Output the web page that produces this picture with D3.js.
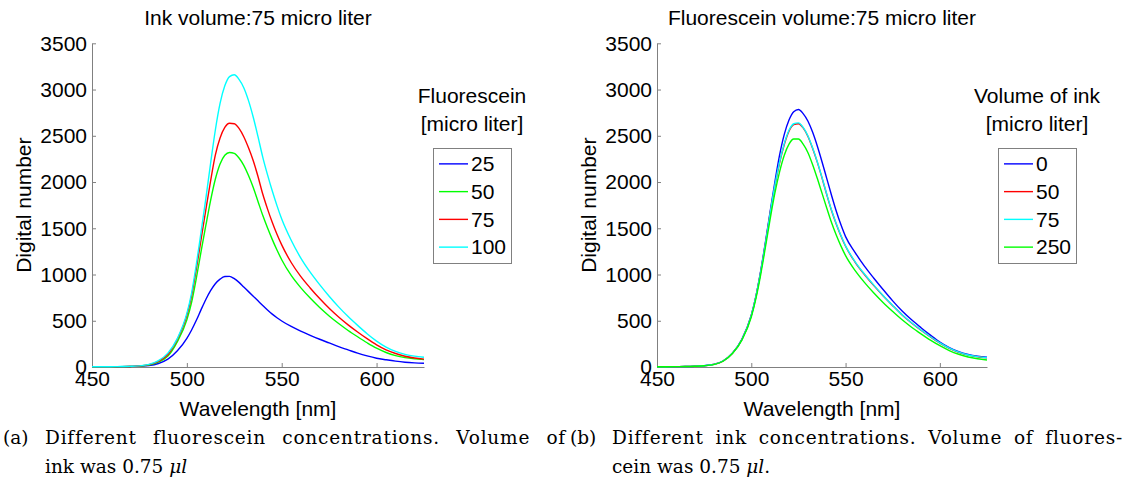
<!DOCTYPE html>
<html>
<head>
<meta charset="utf-8">
<script src="https://cdn.jsdelivr.net/npm/d3@7"></script>
<style>
  body { margin: 0; background: #fff; }
  svg text { font-family: "Liberation Sans", Arial, sans-serif; fill: #000; }
  svg text.caption { font-family: "DejaVu Serif", serif; }
</style>
</head>
<body>
<div id="chart"></div>
<script>
// wavelengths the spectra were read at (nm)
const wavelength = [450, 455, 460, 465, 470, 475, 480, 485, 490, 495, 500,
  502.5, 505, 507.5, 510, 512.5, 515, 517.5, 520, 522.5, 525, 527.5, 530, 532.5, 535,
  537.5, 540, 542.5, 545, 547.5, 550,
  555, 560, 565, 570, 575, 580, 585, 590, 595, 600, 605, 610, 615, 620, 625]

const xTicks = [450, 500, 550, 600]
const yTicks = [0, 500, 1000, 1500, 2000, 2500, 3000, 3500]

// (a) ink fixed at 75, fluorescein varied
const fluoLabels = ["25", "50", "75", "100"]
const fluo25 = [2, 2, 3, 4, 6, 9, 16, 38, 85, 175, 310,
  400, 505, 620, 730, 825, 900, 950, 978, 980, 955, 915, 865, 815, 765,
  715, 665, 617, 572, 533, 497,
  438, 388, 343, 300, 260, 220, 185, 150, 120, 95, 78, 63, 52, 45, 40]
const fluo50 = [2, 2, 3, 4, 6, 10, 22, 52, 118, 275, 510,
  700, 960, 1250, 1530, 1800, 2030, 2195, 2290, 2320, 2310, 2260, 2180, 2070, 1940,
  1790, 1640, 1505, 1380, 1265, 1160,
  990, 858, 745, 643, 552, 470, 395, 327, 262, 203, 157, 123, 101, 88, 80]
const fluo75 = [2, 2, 3, 4, 6, 11, 25, 60, 135, 300, 560,
  770, 1060, 1380, 1700, 2010, 2290, 2475, 2590, 2635, 2630, 2580, 2490, 2370, 2230,
  2060, 1870, 1710, 1565, 1435, 1320,
  1130, 980, 855, 740, 635, 540, 455, 378, 306, 240, 186, 146, 116, 97, 85]
const fluo100 = [2, 3, 3, 5, 7, 12, 28, 68, 150, 310, 580,
  800, 1110, 1460, 1820, 2200, 2560, 2850, 3040, 3140, 3160, 3110, 3020, 2880, 2700,
  2490, 2270, 2080, 1905, 1745, 1600,
  1370, 1180, 1025, 890, 765, 650, 545, 450, 360, 280, 215, 168, 137, 117, 105]

// (b) fluorescein fixed at 75, ink varied
const inkLabels = ["0", "50", "75", "250"]
const ink0 = [2, 3, 4, 5, 8, 14, 28, 65, 150, 300, 560,
  770, 1040, 1350, 1680, 2000, 2290, 2515, 2670, 2760, 2785, 2740, 2660, 2540, 2390,
  2220, 2040, 1860, 1690, 1540, 1410,
  1240, 1090, 960, 835, 715, 605, 510, 425, 345, 270, 210, 165, 135, 116, 105]
const ink50 = [2, 3, 4, 5, 8, 14, 28, 64, 148, 295, 555,
  765, 1030, 1335, 1660, 1955, 2205, 2405, 2550, 2620, 2630, 2585, 2495, 2365, 2215,
  2045, 1865, 1695, 1550, 1420, 1305,
  1135, 1000, 880, 768, 663, 563, 476, 398, 325, 258, 202, 159, 129, 111, 99]
const ink75 = [2, 3, 4, 5, 8, 14, 28, 65, 150, 295, 555,
  765, 1030, 1335, 1660, 1965, 2215, 2415, 2560, 2630, 2640, 2590, 2500, 2370, 2220,
  2050, 1870, 1700, 1555, 1425, 1310,
  1140, 1005, 885, 770, 665, 565, 478, 400, 327, 260, 203, 160, 130, 112, 100]
const ink250 = [2, 3, 4, 5, 8, 13, 26, 62, 145, 290, 540,
  745, 1000, 1295, 1600, 1880, 2110, 2290, 2410, 2465, 2465, 2410, 2320, 2190, 2040,
  1880, 1720, 1565, 1430, 1310, 1205,
  1045, 915, 800, 695, 600, 510, 430, 358, 290, 230, 178, 138, 108, 89, 76]

const blue = "#0000ff", green = "#00ff00", red = "#ff0000", cyan = "#00ffff"

const width = 1142, height = 493
const axisColor = "#808080"

let svg = d3.select("#chart").append("svg")
  .attr("width", width)
  .attr("height", height)

//one panel of the figure
function panel(opts) {
  const left = opts.left, right = opts.right
  const top = 43.3, bottom = 367

  let x = d3.scaleLinear().domain([450, 625]).range([left, right])
  let y = d3.scaleLinear().domain([0, 3500]).range([bottom, top])

  let g = svg.append("g")

  // axes (matlab style, ticks pointing in, no box)
  let xAxis = g.append("g")
    .attr("transform", "translate(0," + bottom + ")")
    .call(d3.axisBottom(x).tickValues(xTicks).tickFormat(d3.format("d"))
      .tickSizeInner(-4).tickSizeOuter(0).tickPadding(4))
  let yAxis = g.append("g")
    .attr("transform", "translate(" + left + ",0)")
    .call(d3.axisLeft(y).tickValues(yTicks).tickFormat(d3.format("d"))
      .tickSizeInner(-4).tickSizeOuter(0).tickPadding(5))

  for (let a of [xAxis, yAxis]) {
    a.select(".domain").attr("stroke", axisColor)
    a.selectAll(".tick line").attr("stroke", axisColor)
    a.selectAll(".tick text")
      .attr("font-size", 21)
      .attr("font-family", "Liberation Sans, Arial, sans-serif")
      .attr("fill", "#000")
  }

  let line = d3.line()
    .x(function (d) { return x(d[0]) })
    .y(function (d) { return y(d[1]) })
    .curve(d3.curveMonotoneX)

  opts.series.forEach(function (s, i) {
    g.append("path")
      .datum(wavelength.map(function (w, j) { return [w, s[j]] }))
      .attr("fill", "none")
      .attr("stroke", opts.colors[i])
      .attr("stroke-width", 1.4)
      .attr("d", line)
  })

  // title + axis labels
  g.append("text")
    .attr("x", (left + right) / 2)
    .attr("y", 25)
    .attr("text-anchor", "middle")
    .attr("font-size", 21)
    .text(opts.title)

  g.append("text")
    .attr("x", (left + right) / 2)
    .attr("y", 416)
    .attr("text-anchor", "middle")
    .attr("font-size", 21)
    .text("Wavelength [nm]")

  g.append("text")
    .attr("transform", "translate(" + (left - 61) + "," + ((top + bottom) / 2) + ") rotate(-90)")
    .attr("text-anchor", "middle")
    .attr("font-size", 21)
    .text("Digital number")

  // legend
  const lx = opts.legendX, lw = 78
  const rowY = d3.scaleBand().domain(opts.labels).range([150, 261])

  opts.legendTitle.forEach(function (t, i) {
    g.append("text")
      .attr("x", lx + lw / 2)
      .attr("y", 103 + i * 28)
      .attr("text-anchor", "middle")
      .attr("font-size", 21)
      .text(t)
  })

  g.append("rect")
    .attr("x", lx + 0.5)
    .attr("y", 148.5)
    .attr("width", lw)
    .attr("height", 115)
    .attr("fill", "#fff")
    .attr("stroke", axisColor)

  let item = g.selectAll(".legend-item")
    .data(opts.labels)
    .enter()
    .append("g")
    .attr("class", "legend-item")
    .attr("transform", function (d) {
      return "translate(" + lx + "," + (rowY(d) + rowY.bandwidth() / 2) + ")"
    })

  item.append("line")
    .attr("x1", 6)
    .attr("x2", 35)
    .attr("stroke", function (d, i) { return opts.colors[i] })
    .attr("stroke-width", 1.4)

  item.append("text")
    .attr("x", 38)
    .attr("dy", "0.35em")
    .attr("font-size", 21)
    .text(function (d) { return d })
}

panel({
  left: 92, right: 424, legendX: 433,
  title: "Ink volume:75 micro liter",
  legendTitle: ["Fluorescein", "[micro liter]"],
  labels: fluoLabels,
  series: [fluo25, fluo50, fluo75, fluo100],
  colors: [blue, green, red, cyan]
})

panel({
  left: 657, right: 987, legendX: 998,
  title: "Fluorescein volume:75 micro liter",
  legendTitle: ["Volume of ink", "[micro liter]"],
  labels: inkLabels,
  series: [ink0, ink50, ink75, ink250],
  colors: [blue, red, cyan, green]
})

// sub captions
function caption(x, y) {
  return svg.append("text")
    .attr("class", "caption")
    .attr("x", x)
    .attr("y", y)
    .attr("font-size", 18.5)
}

// justify a line: a little letter spacing, the rest goes into the word gaps
function justify(t, len) {
  t.attr("letter-spacing", 0.8)
  let str = t.text()
  let gaps = str.split(" ").length - 1
  let extra = len - t.node().getComputedTextLength()
  if (gaps > 0 && extra > 0) t.attr("word-spacing", extra / gaps)
}

caption(3, 444).text("(a)")
justify(caption(45, 444).text("Different fluorescein concentrations. Volume of"), 521)
let a2 = caption(45, 473)
a2.append("tspan").text("ink was 0.75 ")
a2.append("tspan").attr("font-style", "italic").text("μl")

caption(570, 444).text("(b)")
justify(caption(612, 444).text("Different ink concentrations. Volume of fluores-"), 511)
let b2 = caption(612, 473)
b2.append("tspan").text("cein was 0.75 ")
b2.append("tspan").attr("font-style", "italic").text("μl")
b2.append("tspan").text(".")
</script>
</body>
</html>
